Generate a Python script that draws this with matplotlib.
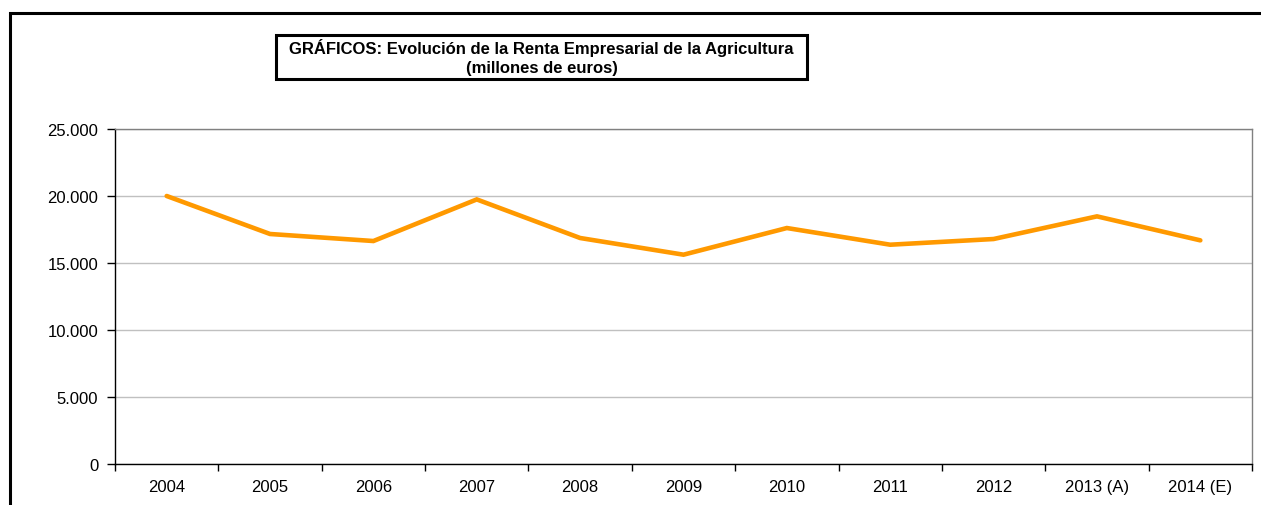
import matplotlib.pyplot as plt
from matplotlib.patches import Rectangle
from matplotlib.ticker import FuncFormatter, FixedLocator

# values (millones de euros)
years = ['2004', '2005', '2006', '2007', '2008', '2009', '2010',
         '2011', '2012', '2013 (A)', '2014 (E)']
renta = [20000, 17165, 16640, 19745, 16865, 15620, 17610,
         16365, 16790, 18480, 16690]
y_ticks = [0, 5000, 10000, 15000, 20000, 25000]

plt.rcParams['font.family'] = ['Liberation Sans', 'DejaVu Sans']

W, H = 1261, 506
fig = plt.figure(figsize=(W / 100, H / 100), dpi=100)

# plot area in pixel terms
left, right, top, bottom = 115, 1252, 130, 465
ax = fig.add_axes([left / W, 1 - bottom / H, (right - left) / W, (bottom - top) / H])

x = list(range(len(years)))
ax.plot(x, renta, color='#FF9900', linewidth=3.3, solid_capstyle='round',
        solid_joinstyle='miter', zorder=3)

ax.set_xlim(-0.5, len(years) - 0.5)
ax.set_ylim(0, 25000)
ax.set_yticks(y_ticks)
ax.yaxis.set_major_formatter(FuncFormatter(lambda v, p: f'{int(v):,}'.replace(',', '.')))
ax.set_xticks(x)
ax.set_xticklabels(years)
ax.xaxis.set_minor_locator(FixedLocator([i - 0.5 for i in range(len(years) + 1)]))
ax.tick_params(axis='x', which='major', length=0, pad=11, labelsize=12)
ax.tick_params(axis='x', which='minor', length=5, width=1, color='black', direction='out')
ax.tick_params(axis='y', length=6, width=1, color='black', pad=6, labelsize=12)

ax.grid(axis='y', color='#C0C0C0', linewidth=1)
ax.set_axisbelow(True)
for s in ['top', 'right']:
    ax.spines[s].set_color('#808080')
    ax.spines[s].set_linewidth(1)
for s in ['left', 'bottom']:
    ax.spines[s].set_color('black')
    ax.spines[s].set_linewidth(1)

# outer frame of the chart (only top and left edges are visible)
fig.add_artist(Rectangle((10 / W, -0.2), 1.2, 1.2 - 14 / H,
                         transform=fig.transFigure, fill=False,
                         edgecolor='black', linewidth=2.2, clip_on=False))

# title box
bx0, bx1, by0, by1 = 276, 807, 36, 80
fig.add_artist(Rectangle((bx0 / W, 1 - by1 / H), (bx1 - bx0) / W, (by1 - by0) / H,
                         transform=fig.transFigure, fill=False,
                         edgecolor='black', linewidth=2.2))
fig.text((bx0 + bx1) / 2 / W, 1 - 57.5 / H,
         'GRÁFICOS: Evolución de la Renta Empresarial de la Agricultura\n(millones de euros)',
         ha='center', va='center', fontsize=12, fontweight='bold', linespacing=1.3)

fig.savefig('out.png', dpi=100)
